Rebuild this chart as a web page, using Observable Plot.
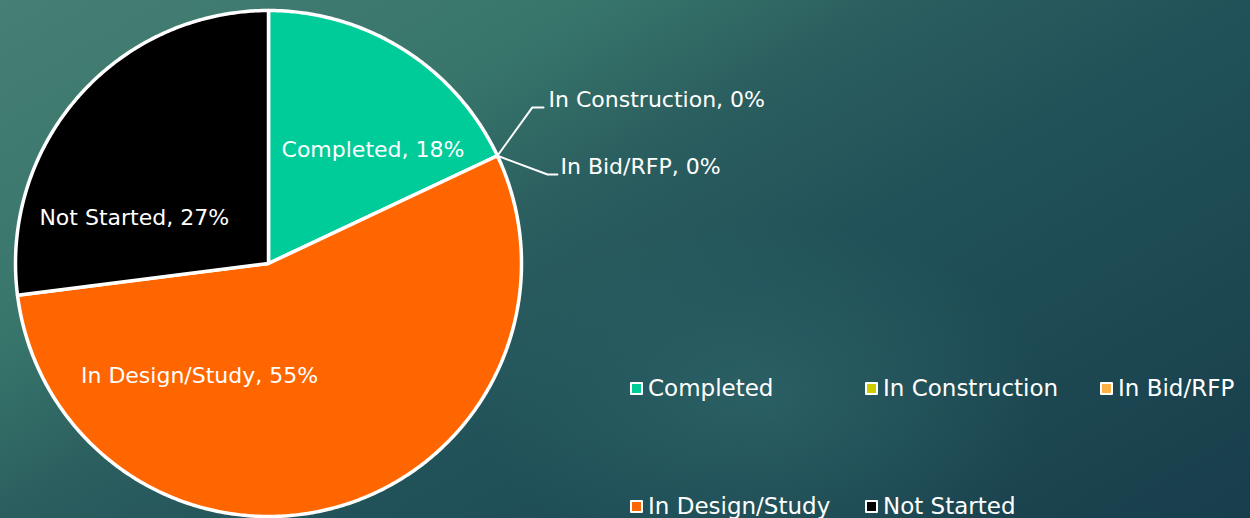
<!DOCTYPE html>
<html>
<head>
<meta charset="utf-8">
<script src="https://cdn.jsdelivr.net/npm/d3@7"></script>
<script src="https://cdn.jsdelivr.net/npm/@observablehq/plot@0.6"></script>
<style>
  html, body { margin: 0; padding: 0; }
  body { width: 1250px; height: 518px; overflow: hidden; }
  #wrap {
    position: relative; width: 1250px; height: 518px;
    background:
      radial-gradient(ellipse 380px 240px at 760px 400px, rgba(70,140,135,0.28), rgba(70,140,135,0) 75%),
      linear-gradient(150deg, #467f74 0%, #37756b 28%, #2b5e5f 42%, #215259 58%, #183e4b 100%);
    font-family: "DejaVu Sans", sans-serif;
  }
  #chart { position: absolute; left: 0; top: 0; }
  .legend { position: absolute; color: #fff; font-size: 23px; line-height: 24px; display: flex; align-items: center; white-space: nowrap; }
  .legend .sw { width: 9px; height: 9px; border: 2px solid #fff; border-radius: 1px; margin-right: 5px; box-sizing: content-box; }
</style>
</head>
<body>
<div id="wrap"><div id="chart"></div></div>
<script>
// ---- data ----
const categories = ["Completed", "In Construction", "In Bid/RFP", "In Design/Study", "Not Started"];
const values = [18, 0, 0, 55, 27];
const colors = ["#00cc99", "#cccc00", "#ffb347", "#ff6600", "#000000"];
const labels = ["Completed, 18%", "In Construction, 0%", "In Bid/RFP, 0%", "In Design/Study, 55%", "Not Started, 27%"];

// ---- geometry from data (pie units: radius 1, y up) ----
const arcs = d3.pie().sort(null).value(d => d)(values);
const slicePts = [];
arcs.forEach((a, i) => {
  if (a.endAngle - a.startAngle <= 0) return;
  const cat = categories[i];
  slicePts.push({cat, x: 0, y: 0});
  const n = Math.max(2, Math.ceil((a.endAngle - a.startAngle) / (Math.PI / 360)));
  for (let k = 0; k <= n; k++) {
    const t = a.startAngle + (a.endAngle - a.startAngle) * k / n;
    slicePts.push({cat, x: Math.sin(t), y: Math.cos(t)});
  }
  slicePts.push({cat, x: 0, y: 0});
});

// inside label anchors (polar: angle in degrees clockwise from top, radius fraction)
const insideLayout = {"Completed": [42.6, 0.61], "In Design/Study": [211.6, 0.52], "Not Started": [288.6, 0.56]};
const insideLabels = [];
arcs.forEach((a, i) => {
  const L = insideLayout[categories[i]];
  if (values[i] > 0 && L) {
    const t = L[0] * Math.PI / 180;
    insideLabels.push({x: L[1] * Math.sin(t), y: L[1] * Math.cos(t), text: labels[i]});
  }
});

// outside labels for zero slices with leader lines
const outsideLayout = {"In Construction": {elbow: [1.043, 0.617], end: [1.087, 0.617], text: [1.107, 0.645]},
                       "In Bid/RFP": {elbow: [1.103, 0.352], end: [1.142, 0.352], text: [1.154, 0.383]}};
const leaderPts = [], outsideLabels = [];
arcs.forEach((a, i) => {
  const L = outsideLayout[categories[i]];
  if (values[i] === 0 && L) {
    const t = a.startAngle;
    leaderPts.push({cat: categories[i], x: Math.sin(t), y: Math.cos(t)});
    leaderPts.push({cat: categories[i], x: L.elbow[0], y: L.elbow[1]});
    leaderPts.push({cat: categories[i], x: L.end[0], y: L.end[1]});
    outsideLabels.push({x: L.text[0], y: L.text[1], text: labels[i]});
  }
});

const chart = Plot.plot({
  width: 1250,
  height: 518,
  margin: 0,
  x: {domain: [-1, 1], range: [15, 521], axis: null},
  y: {domain: [-1, 1], range: [516, 10], axis: null},
  color: {domain: categories, range: colors},
  style: {background: "transparent", overflow: "visible", fontFamily: "DejaVu Sans, sans-serif"},
  marks: [
    Plot.line(slicePts, {x: "x", y: "y", z: "cat", fill: "cat", stroke: "#ffffff", strokeWidth: 3.5, strokeLinejoin: "round", curve: "linear"}),
    Plot.line(leaderPts, {x: "x", y: "y", z: "cat", stroke: "#ffffff", strokeWidth: 2, curve: "linear"}),
    Plot.text(insideLabels, {x: "x", y: "y", text: "text", fill: "#ffffff", fontSize: 22, textAnchor: "middle"}),
    Plot.text(outsideLabels, {x: "x", y: "y", text: "text", fill: "#ffffff", fontSize: 22, textAnchor: "start"})
  ]
});
document.getElementById("chart").appendChild(chart);

// legend (HTML)
const legendCols = [630, 865, 1100];
const legendRows = [388, 506];
const wrap = document.getElementById("wrap");
categories.forEach((c, i) => {
  const el = document.createElement("div");
  el.className = "legend";
  el.style.left = legendCols[i % 3] + "px";
  el.style.top = (legendRows[Math.floor(i / 3)] - 12) + "px";
  const sw = document.createElement("span");
  sw.className = "sw";
  sw.style.background = colors[i];
  el.appendChild(sw);
  el.appendChild(document.createTextNode(c));
  wrap.appendChild(el);
});
</script>
</body>
</html>
